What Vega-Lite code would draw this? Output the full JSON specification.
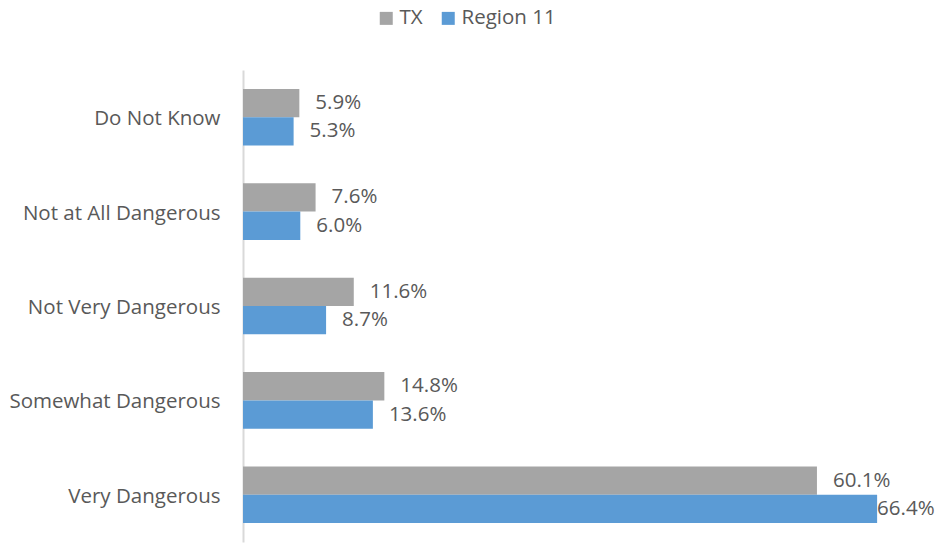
{
  "$schema": "https://vega.github.io/schema/vega-lite/v6.json",
  "width": 668.5,
  "height": 472,
  "autosize": "none",
  "padding": {"left": 243, "top": 70, "right": 23.5, "bottom": 2},
  "background": "white",
  "config": {
    "view": {"stroke": null},
    "font": "Open Sans"
  },
  "data": {
    "values": [
      {"category": "Do Not Know", "series": "TX", "value": 0.059},
      {"category": "Do Not Know", "series": "Region 11", "value": 0.053},
      {"category": "Not at All Dangerous", "series": "TX", "value": 0.076},
      {"category": "Not at All Dangerous", "series": "Region 11", "value": 0.060},
      {"category": "Not Very Dangerous", "series": "TX", "value": 0.116},
      {"category": "Not Very Dangerous", "series": "Region 11", "value": 0.087},
      {"category": "Somewhat Dangerous", "series": "TX", "value": 0.148},
      {"category": "Somewhat Dangerous", "series": "Region 11", "value": 0.136},
      {"category": "Very Dangerous", "series": "TX", "value": 0.601},
      {"category": "Very Dangerous", "series": "Region 11", "value": 0.664}
    ]
  },
  "encoding": {
    "y": {
      "field": "category",
      "type": "nominal",
      "sort": ["Do Not Know", "Not at All Dangerous", "Not Very Dangerous", "Somewhat Dangerous", "Very Dangerous"],
      "scale": {"paddingInner": 0.4, "paddingOuter": 0.2},
      "axis": {
        "title": null,
        "ticks": false,
        "labelFontSize": 20.5,
        "labelColor": "#595959",
        "labelPadding": 23,
        "labelLimit": 300,
        "labelOffset": 2,
        "domainColor": "#D9D9D9",
        "domainWidth": 2,
        "labelFont": "Open Sans"
      }
    },
    "yOffset": {
      "field": "series",
      "type": "nominal",
      "sort": ["TX", "Region 11"],
      "scale": {"paddingInner": 0, "paddingOuter": 0}
    },
    "x": {
      "field": "value",
      "type": "quantitative",
      "scale": {"domain": [0, 0.7]},
      "axis": null
    }
  },
  "layer": [
    {
      "mark": {"type": "bar"},
      "encoding": {
        "color": {
          "field": "series",
          "type": "nominal",
          "sort": ["TX", "Region 11"],
          "scale": {"domain": ["TX", "Region 11"], "range": ["#A5A5A5", "#5B9BD5"]},
          "legend": {
            "title": null,
            "orient": "none",
            "direction": "horizontal",
            "legendX": 133,
            "legendY": -62,
            "symbolType": "square",
            "symbolSize": 169,
            "symbolStrokeWidth": 0,
            "labelFontSize": 20.5,
            "labelColor": "#595959",
            "labelFont": "Open Sans",
            "columnPadding": 15,
            "labelOffset": 3
          }
        }
      }
    },
    {
      "transform": [{"filter": "datum.value < 0.65"}],
      "mark": {"type": "text", "align": "left", "baseline": "middle", "dx": 16, "fontSize": 20.5, "color": "#595959", "font": "Open Sans"},
      "encoding": {
        "text": {"field": "value", "type": "quantitative", "format": ".1%"}
      }
    },
    {
      "transform": [{"filter": "datum.value >= 0.65"}],
      "mark": {"type": "text", "align": "left", "baseline": "middle", "dx": 0, "fontSize": 20.5, "color": "#595959", "font": "Open Sans"},
      "encoding": {
        "text": {"field": "value", "type": "quantitative", "format": ".1%"}
      }
    }
  ]
}
